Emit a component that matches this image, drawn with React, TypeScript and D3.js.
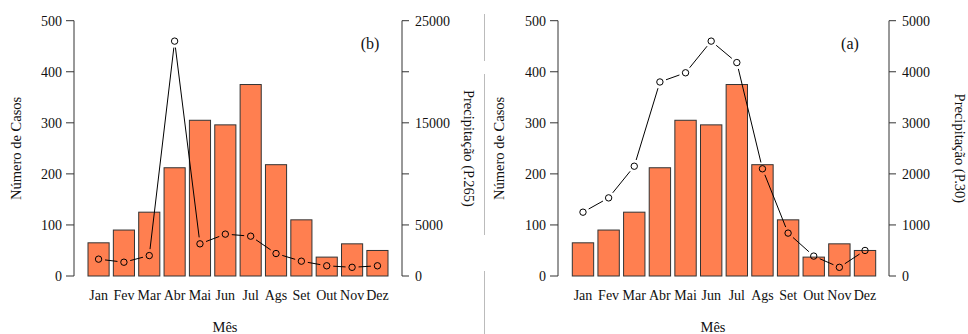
import React from "react";
import * as d3 from "d3";

const months = ["Jan", "Fev", "Mar", "Abr", "Mai", "Jun", "Jul", "Ags", "Set", "Out", "Nov", "Dez"];
const cases = [65, 90, 125, 212, 305, 296, 375, 218, 110, 37, 63, 50];
const precipB = [1650, 1350, 2000, 23000, 3150, 4100, 3900, 2200, 1450, 1000, 850, 1000];
const precipA = [1250, 1530, 2150, 3800, 3980, 4600, 4180, 2100, 840, 390, 170, 500];
const leftTicks = [0, 100, 200, 300, 400, 500];
const rightTicksB = [0, 5000, 10000, 15000, 20000, 25000];
const rightLabelsB = ["0", "5000", "", "15000", "", "25000"];
const rightTicksA = [0, 1000, 2000, 3000, 4000, 5000];
const rightLabelsA = ["0", "1000", "2000", "3000", "4000", "5000"];

const FONT = "\"Liberation Serif\", \"Times New Roman\", \"DejaVu Serif\", serif";
const AX = "#333";
const TXT = "#111";

type PanelCfg = {
  barL: number; barR: number; axL: number; axR: number;
  precip: number[]; rMax: number; rTicks: number[]; rLabels: string[];
  tag: string; tagX: number; xlabX: number; ylabX: number; y2labX: number; y2lab: string;
};

const panels: PanelCfg[] = [
  { barL: 88, barR: 388, axL: 74, axR: 402, precip: precipB, rMax: 25000, rTicks: rightTicksB, rLabels: rightLabelsB,
    tag: "(b)", tagX: 370, xlabX: 225, ylabX: 16, y2labX: 469, y2lab: "Precipitação (P.265)" },
  { barL: 572.3, barR: 875.7, axL: 558, axR: 889, precip: precipA, rMax: 5000, rTicks: rightTicksA, rLabels: rightLabelsA,
    tag: "(a)", tagX: 850, xlabX: 713, ylabX: 499, y2labX: 960, y2lab: "Precipitação (P.30)" },
];

const Y0 = 276, Y1 = 20.7;

function Panel({ p }: { p: PanelCfg }) {
  const x = d3.scaleLinear().domain([0.2, 14.4]).range([p.barL, p.barR]);
  const y = d3.scaleLinear().domain([0, 500]).range([Y0, Y1]);
  const y2 = d3.scaleLinear().domain([0, p.rMax]).range([Y0, Y1]);
  const left = (i: number) => 0.2 + 1.2 * i;
  const cx = (i: number) => x(left(i) + 0.5);
  const pts = p.precip.map((v, i) => [cx(i), y2(v)] as [number, number]);
  const gap = 6.5;
  const segs: string[] = [];
  for (let i = 0; i < pts.length - 1; i++) {
    const [xa, ya] = pts[i];
    const [xb, yb] = pts[i + 1];
    const dx = xb - xa, dy = yb - ya;
    const len = Math.hypot(dx, dy);
    if (len <= 2 * gap) continue;
    const ux = dx / len, uy = dy / len;
    segs.push(`M${xa + ux * gap},${ya + uy * gap}L${xb - ux * gap},${yb - uy * gap}`);
  }
  const midY = (Y0 + Y1) / 2;
  return (
    <g>
      {cases.map((v, i) => (
        <rect key={i} x={x(left(i))} y={y(v)} width={x(left(i) + 1) - x(left(i))} height={Y0 - y(v)}
          fill="#FF7F50" stroke="#333" strokeWidth={1} />
      ))}
      <path d={segs.join("")} stroke="#000" strokeWidth={1} fill="none" />
      {pts.map(([px, py], i) => (
        <circle key={i} cx={px} cy={py} r={3.2} fill="none" stroke="#000" strokeWidth={1} />
      ))}
      <line x1={p.axL} x2={p.axL} y1={y(0)} y2={y(500)} stroke={AX} />
      {leftTicks.map(t => (
        <g key={t}>
          <line x1={p.axL - 8} x2={p.axL} y1={y(t)} y2={y(t)} stroke={AX} />
          <text x={p.axL - 12} y={y(t)} dy="0.35em" textAnchor="end" fontSize={14} fill={TXT}>{t}</text>
        </g>
      ))}
      <line x1={p.axR} x2={p.axR} y1={y2(0)} y2={y2(p.rMax)} stroke={AX} />
      {p.rTicks.map((t, i) => (
        <g key={t}>
          <line x1={p.axR} x2={p.axR + 7} y1={y2(t)} y2={y2(t)} stroke={AX} />
          <text x={p.axR + 13} y={y2(t)} dy="0.35em" textAnchor="start" fontSize={14} fill={TXT}>{p.rLabels[i]}</text>
        </g>
      ))}
      {months.map((m, i) => (
        <text key={m} x={cx(i)} y={295} dy="0.35em" textAnchor="middle" fontSize={14} fill={TXT}>{m}</text>
      ))}
      <text x={p.xlabX} y={327} dy="0.35em" textAnchor="middle" fontSize={14.5} fill={TXT}>Mês</text>
      <text x={p.tagX} y={43} dy="0.35em" textAnchor="middle" fontSize={16} fill={TXT}>{p.tag}</text>
      <text transform={`translate(${p.ylabX},${midY}) rotate(-90)`} dy="0.35em" textAnchor="middle" fontSize={14.5} fill={TXT}>Número de Casos</text>
      <text transform={`translate(${p.y2labX},${midY}) rotate(90)`} dy="0.35em" textAnchor="middle" fontSize={14.5} fill={TXT}>{p.y2lab}</text>
    </g>
  );
}

const sepSegments = [[14, 61], [74, 235], [271, 334]];

export default function App() {
  return (
    <svg width={968} height={334} style={{ position: "absolute", left: 0, top: 0, background: "#fff", fontFamily: FONT }}>
      <rect width={968} height={334} fill="#fff" />
      {sepSegments.map(([a, b], i) => (
        <line key={i} x1={484.5} x2={484.5} y1={a} y2={b} stroke="#bbb" strokeWidth={1} />
      ))}
      {panels.map((p, i) => <Panel key={i} p={p} />)}
    </svg>
  );
}
